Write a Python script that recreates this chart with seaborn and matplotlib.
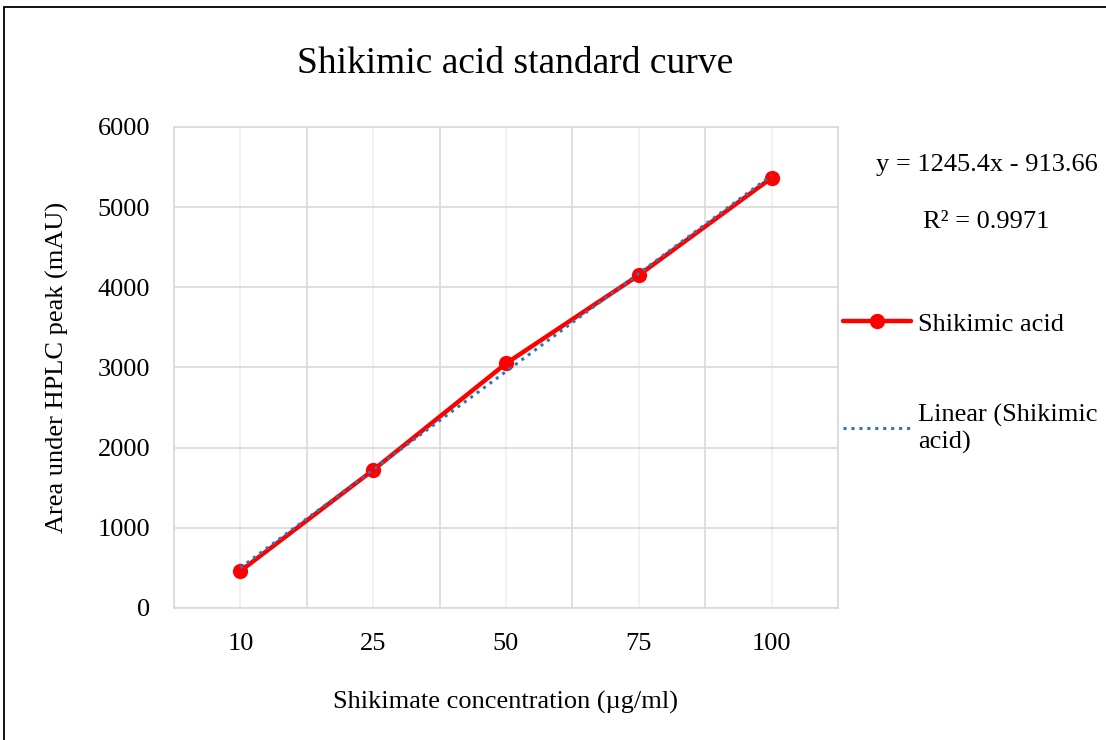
import matplotlib
matplotlib.use("Agg")
import matplotlib.pyplot as plt
from matplotlib.patches import Rectangle
import numpy as np
import pandas as pd
import seaborn as sns

# data
concentrations = ["10", "25", "50", "75", "100"]
peak_area = [461, 1721, 3050, 4152, 5365]
equation_text = "y = 1245.4x - 913.66"
r2_text = "R² = 0.9971"

sns.set_theme(style="white")
plt.rcParams["font.family"] = ["Liberation Serif", "DejaVu Serif"]
plt.rcParams["text.color"] = "black"
plt.rcParams["axes.labelcolor"] = "black"

df = pd.DataFrame({"pos": np.arange(len(concentrations)), "area": peak_area})

fig = plt.figure(figsize=(11.06, 7.4), dpi=100)
ax = fig.add_axes([0.1573, 0.1784, 0.6004, 0.65])

sns.regplot(data=df, x="pos", y="area", ax=ax, scatter=False, ci=None,
            line_kws=dict(color="#2E75B6", lw=2.2, ls=(0, (1, 1.6)), zorder=4),
            label="Linear (Shikimic\nacid)")
sns.lineplot(data=df, x="pos", y="area", ax=ax, color="#FF0000", lw=3.2,
             marker="o", markersize=11, markeredgewidth=0, zorder=3,
             label="Shikimic acid")

ax.set_xlim(-0.5, len(concentrations) - 0.5)
ax.set_ylim(0, 6000)
ax.set_yticks(range(0, 6001, 1000))
ax.set_xticks(np.arange(len(concentrations)))
ax.set_xticklabels(concentrations)
ax.set_xticks(np.arange(-0.5, len(concentrations), 1.0), minor=True)

ax.grid(axis="y", which="major", color="#d9d9d9", lw=1.2)
ax.grid(axis="x", which="minor", color="#d9d9d9", lw=1.2)
ax.grid(axis="x", which="major", color="#efefef", lw=1.2)
ax.set_axisbelow(True)
for s in ax.spines.values():
    s.set_color("#d9d9d9")
    s.set_linewidth(1.2)

fs = 19
ax.tick_params(axis="both", which="both", length=0, labelsize=fs, colors="black")
ax.tick_params(axis="y", pad=17)
ax.tick_params(axis="x", pad=18)
ax.set_xlabel("Shikimate concentration (µg/ml)", fontsize=fs, labelpad=26)
ax.set_ylabel("Area under HPLC peak (mAU)", fontsize=fs, labelpad=21)

fig.text(515 / 1106, 1 - 64 / 740, "Shikimic acid standard curve", fontsize=27,
         ha="center", va="center")

handles, labels = ax.get_legend_handles_labels()
order = [labels.index("Shikimic acid"), labels.index("Linear (Shikimic\nacid)")]
ax.legend([handles[i] for i in order], [labels[i] for i in order],
          loc="center left", bbox_to_anchor=(0.762, 1 - 383 / 740),
          bbox_transform=fig.transFigure, frameon=False, fontsize=fs,
          handlelength=2.6, handletextpad=0.25, labelspacing=2.6,
          borderaxespad=0, borderpad=0, labelcolor="black")

fig.text(876 / 1106, 1 - 165 / 740, equation_text, fontsize=fs, va="center")
fig.text(923 / 1106, 1 - 222 / 740, r2_text, fontsize=fs, va="center")

fig.patches.append(Rectangle((0.004, -0.01), 1.2, 1.0, transform=fig.transFigure,
                             fill=False, edgecolor="black", lw=1.3))

fig.savefig("out.png", dpi=100)
